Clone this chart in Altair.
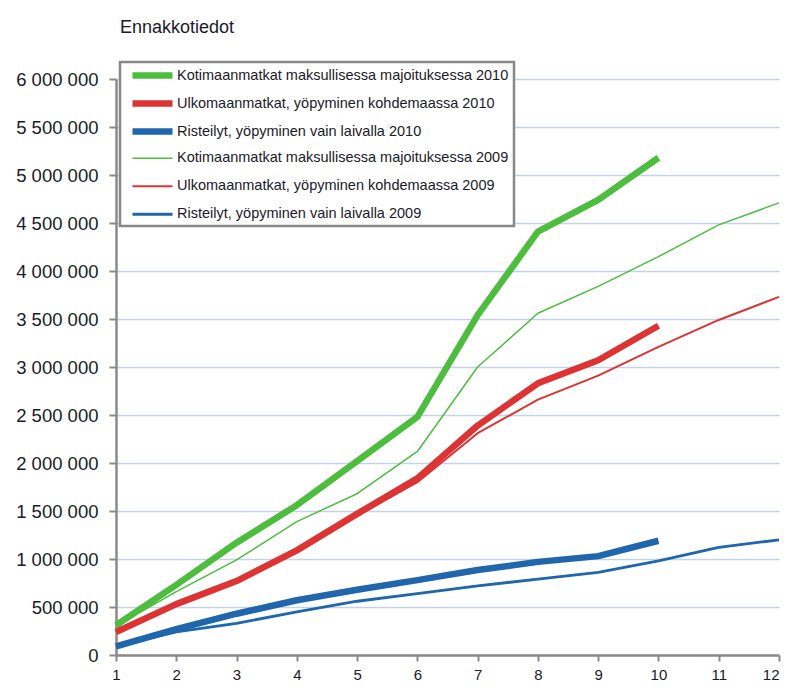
import altair as alt
import pandas as pd

months = list(range(1, 13))

series_names = [
    "Kotimaanmatkat maksullisessa majoituksessa 2010",
    "Ulkomaanmatkat, yöpyminen kohdemaassa 2010",
    "Risteilyt, yöpyminen vain laivalla 2010",
    "Kotimaanmatkat maksullisessa majoituksessa 2009",
    "Ulkomaanmatkat, yöpyminen kohdemaassa 2009",
    "Risteilyt, yöpyminen vain laivalla 2009",
]

green_2010 = [310000, 730000, 1170000, 1560000, 2020000, 2480000, 3540000, 4410000, 4740000, 5180000]
red_2010 = [240000, 530000, 770000, 1090000, 1470000, 1840000, 2390000, 2830000, 3070000, 3430000]
blue_2010 = [90000, 270000, 430000, 570000, 680000, 780000, 885000, 970000, 1030000, 1190000]
green_2009 = [300000, 660000, 990000, 1390000, 1680000, 2120000, 3000000, 3560000, 3840000, 4150000, 4480000, 4710000]
red_2009 = [240000, 520000, 760000, 1070000, 1450000, 1800000, 2310000, 2660000, 2910000, 3210000, 3490000, 3730000]
blue_2009 = [90000, 240000, 330000, 450000, 560000, 640000, 720000, 790000, 860000, 980000, 1120000, 1200000]

colors = ["#4dbd3e", "#dd3333", "#1f66ad", "#4dbd3e", "#dd3333", "#1f66ad"]
widths = [6.5, 6.5, 6.5, 1.5, 2, 2.8]

all_values = [green_2010, red_2010, blue_2010, green_2009, red_2009, blue_2009]
rows = []
for name, vals in zip(series_names, all_values):
    for m, v in zip(months, vals):
        rows.append({"kk": m, "arvo": v, "sarja": name, "vuosi": name[-4:]})
df = pd.DataFrame(rows)

color_scale = alt.Scale(domain=series_names, range=colors)
width_scale = alt.Scale(type="ordinal", domain=series_names, range=widths)

legend = alt.Legend(orient="none", legendX=4, legendY=-17,
                    symbolType="M-0.2,0H7.8", symbolSize=100,
                    labelLimit=500, labelFontSize=14.5,
                    labelOffset=35, rowPadding=1, padding=5,
                    gridAlign="all",
                    strokeColor="#888888", fillColor="white", title=None)

base = alt.Chart(df).mark_line(strokeJoin="round", strokeCap="butt").encode(
    x=alt.X("kk:Q", scale=alt.Scale(domain=[1, 12], nice=False),
            axis=alt.Axis(values=months, title=None, grid=False, format="d",
                          tickSize=6, labelPadding=6, labelFontSize=15,
                          labelAlign={"expr": "datum.value == 12 ? 'right' : 'center'"})),
    y=alt.Y("arvo:Q", scale=alt.Scale(domain=[0, 6000000], nice=False),
            axis=alt.Axis(values=list(range(0, 6000001, 500000)), title=None,
                          grid=True, tickSize=7, labelPadding=11, labelFontSize=18.5,
                          labelExpr="replace(replace(format(datum.value, ','), ',', ' '), ',', ' ')")),
    color=alt.Color("sarja:N", scale=color_scale, title=None, legend=legend),
    strokeWidth=alt.StrokeWidth("sarja:N", scale=width_scale, title=None, legend=legend),
)

layer_2009 = base.transform_filter(alt.datum.vuosi == "2009")
layer_2010 = base.transform_filter(alt.datum.vuosi == "2010")

chart = alt.layer(layer_2009, layer_2010).properties(
    width=663, height=576,
    title=alt.TitleParams("Ennakkotiedot", anchor="start", frame="group", fontSize=18,
                          font="Liberation Sans", fontWeight="normal",
                          color="#1a1a2a", offset=24, dx=4),
    autosize=alt.AutoSizeParams(type="none"),
    padding={"left": 108, "top": 71, "right": 4, "bottom": 28},
).configure_axis(
    domainColor="#8a8a8a", domainWidth=2.5, tickColor="#8a8a8a", tickWidth=2,
    gridColor="#c4d2ee", gridWidth=1.5, labelColor="#1a1a2a",
    labelFont="Liberation Sans",
).configure_legend(
    labelFont="Liberation Sans", labelColor="#1a1a2a", strokeWidth=2.5,
).configure_view(stroke=None)

chart.save("out.html", embed_options={"renderer": "svg", "actions": False})
